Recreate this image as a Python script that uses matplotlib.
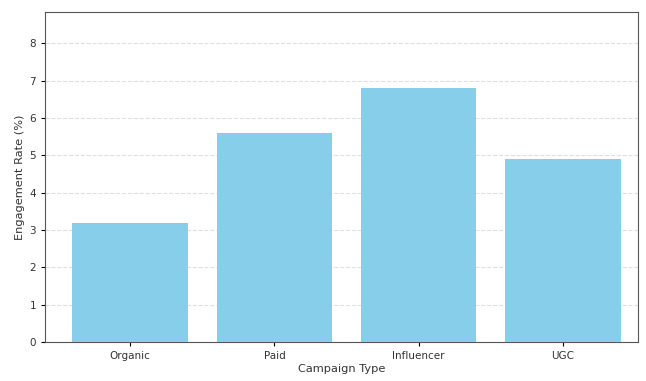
import matplotlib
matplotlib.use('Agg')
import matplotlib.pyplot as plt

# datos
campaigns = ['Organic', 'Paid', 'Influencer', 'UGC']
engagement = [3.2, 5.6, 6.8, 4.9]

fig = plt.figure(figsize=(6.46, 3.81), dpi=100)
ax = fig.add_axes([0.0697, 0.1024, 0.918, 0.866])

ax.bar(campaigns, engagement, color='skyblue', width=0.8, zorder=3)

ax.set_ylim(0, 8.84)
ax.set_xlim(-0.59, 3.52)
ax.set_yticks(range(0, 9))
ax.grid(axis='y', linestyle='--', alpha=0.4, zorder=0)

ax.set_xlabel('Campaign Type', fontsize=8.2, labelpad=2, color='#333333')
ax.set_ylabel('Engagement Rate (%)', fontsize=8.2, labelpad=3, color='#333333')
ax.tick_params(labelsize=7.5, length=3, labelcolor='#333333')

for s in ax.spines.values():
    s.set_color('#555555')

fig.savefig('out.png', dpi=100)
